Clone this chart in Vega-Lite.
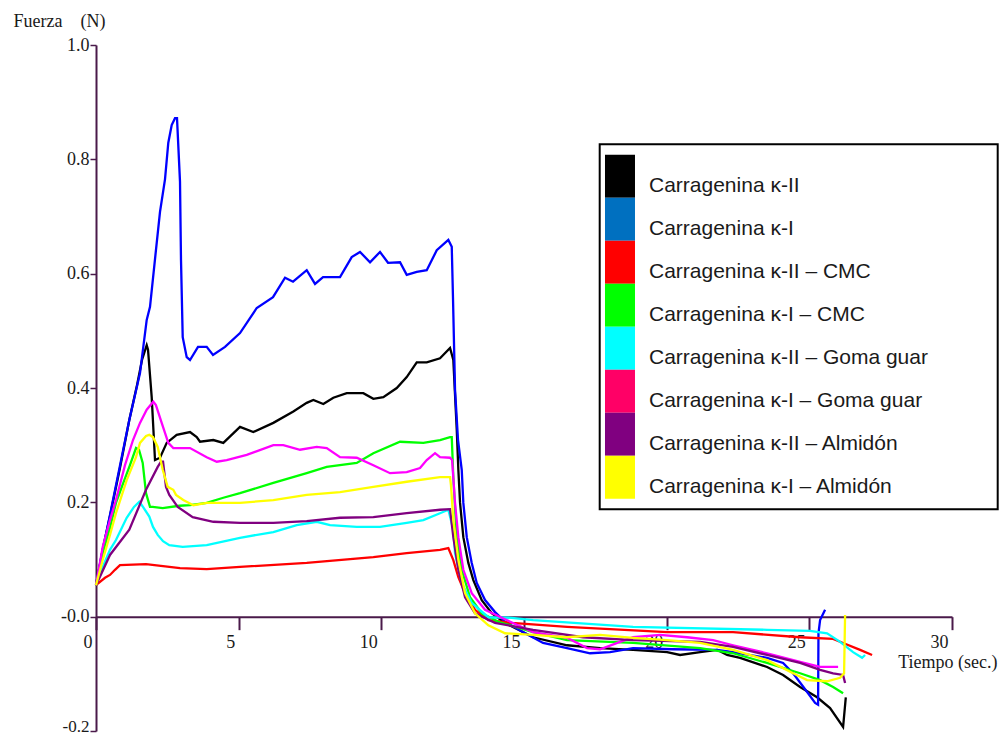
{
  "$schema": "https://vega.github.io/schema/vega-lite/v6.json",
  "width": 856,
  "height": 686,
  "autosize": "none",
  "padding": {"left": 96, "top": 45, "right": 50, "bottom": 7},
  "background": "white",
  "config": {"view": {"stroke": null}},
  "data": {
    "values": [
      {"s": "Carragenina κ-II",
       "t": [0,0.235,0.49,0.84,1.167,1.437,1.612,1.777,1.823,1.952,2.068,2.243,2.478,2.829,3.295,3.53,3.645,4.112,4.462,5.047,5.514,6.215,6.916,7.385,7.617,7.967,8.318,8.787,9.369,9.72,10.07,10.54,10.89,11.241,11.591,12.057,12.408,12.523,12.643,12.699,12.759,12.874,13.049,13.224,13.519,13.87,14.336,15.317,16.509,17.666,18.823,20.014,20.47,21.171,21.767,22.117,22.573,23.519,24.08,24.676,25.272,25.727,26.183,26.278],
       "f": [0.055,0.117,0.176,0.26,0.344,0.405,0.449,0.475,0.467,0.384,0.274,0.278,0.304,0.318,0.323,0.314,0.306,0.309,0.304,0.332,0.323,0.339,0.359,0.374,0.379,0.372,0.383,0.391,0.391,0.381,0.384,0.4,0.419,0.445,0.445,0.452,0.47,0.449,0.327,0.257,0.199,0.139,0.094,0.064,0.029,0.006,-0.011,-0.036,-0.05,-0.055,-0.058,-0.062,-0.067,-0.062,-0.058,-0.067,-0.072,-0.088,-0.102,-0.123,-0.141,-0.16,-0.193,-0.141]},
      {"s": "Carragenina κ-I",
       "t": [0,0.235,0.49,0.84,1.167,1.542,1.777,1.893,2.128,2.243,2.418,2.534,2.653,2.769,2.839,2.944,2.979,3.039,3.179,3.295,3.575,3.88,4.101,4.522,5.047,5.633,6.204,6.625,6.905,7.385,7.676,7.957,8.552,8.962,9.253,9.604,9.954,10.235,10.655,10.89,11.241,11.591,11.942,12.348,12.468,12.513,12.583,12.688,12.818,12.874,12.994,13.168,13.344,13.635,13.985,14.336,14.966,15.668,16.509,17.315,18.016,18.823,20.224,21.767,22.327,23.519,24.08,24.431,24.746,24.956,25.202,25.307,25.32,25.377,25.552],
       "f": [0.055,0.117,0.178,0.264,0.344,0.426,0.519,0.542,0.654,0.708,0.765,0.829,0.86,0.872,0.872,0.761,0.624,0.489,0.454,0.449,0.472,0.472,0.458,0.472,0.496,0.54,0.559,0.593,0.586,0.606,0.582,0.594,0.594,0.629,0.638,0.62,0.638,0.619,0.62,0.598,0.603,0.606,0.641,0.659,0.647,0.554,0.397,0.309,0.257,0.199,0.139,0.094,0.059,0.029,0.008,-0.009,-0.027,-0.046,-0.055,-0.064,-0.062,-0.055,-0.057,-0.058,-0.062,-0.072,-0.081,-0.099,-0.12,-0.134,-0.151,-0.154,-0.029,-0.006,0.012]},
      {"s": "Carragenina κ-II – CMC",
       "t": [0,0.315,0.49,0.666,0.84,1.753,2.944,3.88,5.047,7.385,9.72,10.89,12.057,12.348,12.523,12.699,12.934,13.284,13.75,14.57,16.509,20.014,22.327,24.676,25.833,26.183,26.779,27.199],
       "f": [0.055,0.068,0.073,0.082,0.09,0.092,0.085,0.083,0.087,0.094,0.104,0.111,0.117,0.12,0.099,0.069,0.041,0.012,-0.006,-0.011,-0.018,-0.027,-0.027,-0.036,-0.039,-0.046,-0.058,-0.067]},
      {"s": "Carragenina κ-I – CMC",
       "t": [0,0.235,0.49,0.7,0.957,1.19,1.402,1.507,1.637,1.753,1.893,1.987,2.338,2.92,3.295,3.88,4.462,5.047,6.215,7.385,8.086,9.138,9.72,10.655,11.472,12.057,12.408,12.468,12.523,12.643,12.818,13.109,13.519,14.101,15.317,16.509,18.823,21.171,22.327,23.519,24.676,25.377,25.833,26.183],
       "f": [0.055,0.111,0.155,0.199,0.234,0.265,0.295,0.292,0.269,0.216,0.192,0.192,0.19,0.194,0.195,0.199,0.208,0.216,0.234,0.251,0.262,0.269,0.286,0.306,0.304,0.309,0.314,0.314,0.244,0.139,0.082,0.034,0.006,-0.009,-0.027,-0.041,-0.046,-0.055,-0.064,-0.081,-0.099,-0.111,-0.123,-0.134]},
      {"s": "Carragenina κ-II – Goma guar",
       "t": [0,0.235,0.49,0.7,1.076,1.332,1.518,1.647,1.868,1.998,2.163,2.349,2.569,3.039,3.88,5.047,6.215,7.035,7.736,8.202,9.138,9.954,10.89,11.472,12.057,12.348,12.523,12.583,12.818,13.168,13.75,14.57,15.317,18.823,23.519,25.026,25.622,26.078,26.533,26.849,26.954],
       "f": [0.055,0.087,0.117,0.134,0.173,0.192,0.201,0.192,0.175,0.157,0.143,0.132,0.125,0.122,0.125,0.138,0.148,0.16,0.166,0.16,0.157,0.157,0.164,0.169,0.181,0.187,0.152,0.111,0.059,0.024,-0.001,-0.002,-0.006,-0.018,-0.023,-0.025,-0.029,-0.044,-0.062,-0.072,-0.067]},
      {"s": "Carragenina κ-I – Goma guar",
       "t": [0,0.235,0.49,0.7,1.016,1.297,1.542,1.777,2.008,2.1,2.302,2.534,2.709,3.295,3.88,4.231,4.581,5.282,6.215,6.565,7.15,7.736,8.086,8.552,9.138,9.72,10.305,10.89,11.356,11.591,11.882,12.057,12.408,12.48,12.583,12.699,12.874,13.168,13.635,14.22,15.317,16.509,17.21,17.666,18.367,18.823,19.769,20.715,21.626,22.327,23.519,24.676,25.377,26.008],
       "f": [0.055,0.122,0.169,0.204,0.265,0.309,0.339,0.362,0.376,0.37,0.339,0.304,0.295,0.295,0.279,0.271,0.274,0.283,0.3,0.3,0.292,0.297,0.295,0.279,0.278,0.265,0.251,0.253,0.26,0.274,0.286,0.279,0.278,0.274,0.199,0.139,0.082,0.041,0.012,-0.002,-0.027,-0.037,-0.055,-0.057,-0.044,-0.036,-0.032,-0.036,-0.041,-0.05,-0.064,-0.079,-0.088,-0.088]},
      {"s": "Carragenina κ-II – Almidón",
       "t": [0,0.49,1.167,1.753,2.163,2.278,2.349,2.454,2.569,2.864,3.389,4.112,5.047,6.215,7.385,8.552,9.72,10.89,12.057,12.408,12.523,12.699,12.934,13.284,13.985,15.317,17.07,18.823,21.171,22.327,23.519,24.676,25.377,25.833,26.183,26.253],
       "f": [0.055,0.108,0.152,0.222,0.262,0.271,0.271,0.227,0.213,0.192,0.174,0.166,0.164,0.164,0.167,0.173,0.174,0.181,0.187,0.188,0.139,0.082,0.034,0.006,-0.011,-0.023,-0.036,-0.041,-0.044,-0.053,-0.067,-0.081,-0.093,-0.099,-0.102,-0.116]},
      {"s": "Carragenina κ-I – Almidón",
       "t": [0,0.235,0.49,0.7,1.076,1.402,1.542,1.753,1.868,1.998,2.163,2.338,2.513,2.709,2.804,3.06,3.41,3.88,5.047,6.215,7.385,8.552,9.72,10.89,12.057,12.408,12.44,12.523,12.699,12.934,13.284,13.75,14.336,15.317,16.509,17.666,18.823,20.014,21.171,22.327,23.519,24.431,24.921,25.622,26.078,26.218,26.253],
       "f": [0.055,0.099,0.143,0.181,0.239,0.279,0.304,0.316,0.318,0.314,0.297,0.257,0.227,0.222,0.213,0.204,0.195,0.199,0.199,0.204,0.213,0.218,0.227,0.236,0.244,0.244,0.23,0.169,0.099,0.041,0.006,-0.015,-0.029,-0.032,-0.036,-0.032,-0.037,-0.041,-0.046,-0.058,-0.076,-0.099,-0.111,-0.113,-0.107,-0.099,0.003]}
    ]
  },
  "transform": [{"flatten": ["t", "f"]}],
  "mark": {"type": "line", "strokeWidth": 2.3, "interpolate": "linear"},
  "encoding": {
    "x": {
      "field": "t", "type": "quantitative",
      "scale": {"domain": [0, 30], "nice": false, "zero": false},
      "axis": {
        "orient": "bottom", "offset": -114.33,
        "values": [0, 5, 10, 15, 20, 25, 30],
        "grid": false,
        "domainColor": "#4a1a4a", "domainWidth": 2,
        "tickColor": "#4a1a4a", "tickWidth": 2, "tickSize": 13,
        "labelFont": "Liberation Serif", "labelFontSize": 18, "labelColor": "#1a1a1a",
        "labelAlign": "right", "labelOffset": -4, "labelPadding": 4, "labelBaseline": "top",
        "labelFlush": false, "labelOverlap": false,
        "title": "Tiempo (sec.)", "titleFont": "Liberation Serif", "titleFontSize": 18,
        "titleFontWeight": "normal", "titleColor": "#1a1a1a",
        "titleX": 901, "titleY": 51, "titleAlign": "right", "titleBaseline": "alphabetic"
      }
    },
    "y": {
      "field": "f", "type": "quantitative",
      "scale": {"domain": [-0.2, 1.0], "nice": false, "zero": false},
      "axis": {
        "values": [-0.2, 0, 0.2, 0.4, 0.6, 0.8, 1.0],
        "labelExpr": "datum.value == 0 ? '-0.0' : (datum.value < 0 ? '-' + format(-datum.value, '.1f') : format(datum.value, '.1f'))",
        "grid": false,
        "domainColor": "#4a1a4a", "domainWidth": 2,
        "tickColor": "#4a1a4a", "tickWidth": 1.5, "tickSize": 6,
        "labelFont": "Liberation Serif", "labelColor": "#1a1a1a",
        "labelFontSize": {"condition": {"test": "datum.value < -0.1", "value": 17}, "value": 18},
        "labelOffset": {"condition": {"test": "datum.value < -0.1", "value": -5}, "value": 0},
        "labelPadding": 1,
        "title": "Fuerza\u00a0\u00a0\u00a0 (N)", "titleFont": "Liberation Serif", "titleFontSize": 18,
        "titleFontWeight": "normal", "titleColor": "#1a1a1a",
        "titleAngle": 0, "titleX": -83, "titleY": -19, "titleAlign": "left", "titleBaseline": "alphabetic"
      }
    },
    "color": {
      "field": "s", "type": "nominal",
      "scale": {
        "domain": ["Carragenina κ-II", "Carragenina κ-I", "Carragenina κ-II – CMC", "Carragenina κ-I – CMC", "Carragenina κ-II – Goma guar", "Carragenina κ-I – Goma guar", "Carragenina κ-II – Almidón", "Carragenina κ-I – Almidón"],
        "range": ["#000000", "#0000FF", "#FF0000", "#00FF00", "#00FFFF", "#FF00FF", "#800080", "#FFFF00"]
      },
      "legend": {
        "title": null,
        "orient": "none", "legendX": 503.7, "legendY": 99.3,
        "padding": 10.5,
        "strokeColor": "#000000",
        "fillColor": "white",
        "symbolType": "M-1.347,-1H0.653V1.86H-1.347Z",
        "symbolSize": 900,
        "symbolStrokeWidth": 0,
        "rowPadding": 0,
        "labelFont": "Liberation Sans", "labelFontSize": 21, "labelColor": "#1a1a1a",
        "labelOffset": 8.8, "labelLimit": 500,
        "encode": {
          "symbols": {"update": {
            "fill": {"signal": "datum.value === 'Carragenina κ-I' ? '#0070C0' : (datum.value === 'Carragenina κ-I – Goma guar' ? '#FF0066' : scale('color', datum.value))"},
            "stroke": {"value": "transparent"},
            "opacity": {"value": 1}
          }},
          "labels": {"update": {
            "text": {"signal": "datum.label + '\u00a0\u00a0\u00a0\u00a0\u00a0\u00a0\u00a0\u00a0\u00a0\u00a0\u200b'"},
            "dy": {"value": 16}
          }},
          "legend": {"update": {"strokeWidth": {"value": 2}}}
        }
      }
    }
  }
}
